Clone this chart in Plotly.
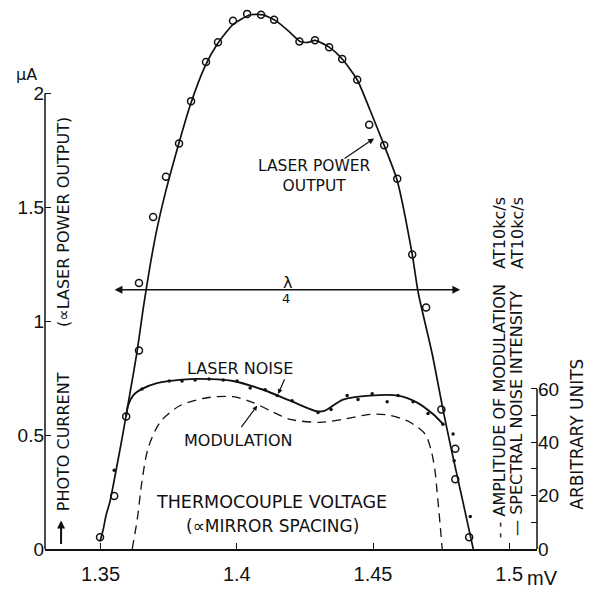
import plotly.graph_objects as go

# ---------------- data ----------------
# Laser power output, measured points (mV, uA)
power_x = [1.3498, 1.3550, 1.3594, 1.3641, 1.3641, 1.3693, 1.3740, 1.3788, 1.3832, 1.3887,
           1.3931, 1.3986, 1.4038, 1.4089, 1.4137, 1.4230, 1.4287, 1.4339, 1.4387, 1.4442,
           1.4486, 1.4541, 1.4589, 1.4644, 1.4695, 1.4751, 1.4802, 1.4802, 1.4853]
power_y = [0.052, 0.233, 0.582, 0.871, 1.168, 1.457, 1.634, 1.780, 1.966, 2.138,
           2.224, 2.319, 2.349, 2.345, 2.323, 2.228, 2.233, 2.203, 2.151, 2.060,
           1.862, 1.772, 1.625, 1.293, 1.060, 0.612, 0.440, 0.306, 0.052]

# Laser power output, drawn curve
power_fit_x = [1.3498, 1.3509, 1.3520, 1.3535, 1.3561, 1.3583, 1.3608, 1.3634, 1.3656, 1.3682,
               1.3707, 1.3737, 1.3781, 1.3829, 1.3884, 1.3928, 1.3986, 1.4049, 1.4097, 1.4148,
               1.4196, 1.4232, 1.4262, 1.4287, 1.4339, 1.4387, 1.4442, 1.4489, 1.4541, 1.4588,
               1.4644, 1.4666, 1.4717, 1.4757, 1.4787, 1.4827, 1.4868]
power_fit_y = [0.034, 0.082, 0.147, 0.211, 0.371, 0.513, 0.685, 0.866, 1.052, 1.246,
               1.405, 1.560, 1.754, 1.948, 2.121, 2.216, 2.302, 2.345, 2.345, 2.315,
               2.267, 2.228, 2.224, 2.233, 2.203, 2.151, 2.060, 1.927, 1.772, 1.621,
               1.293, 1.125, 0.858, 0.612, 0.440, 0.224, 0.000]

# Spectral noise intensity at 10 kc/s, measured points (mV, arbitrary units)
noise_x = [1.3550, 1.3652, 1.3752, 1.3799, 1.3847, 1.3898, 1.3950, 1.4001, 1.4049, 1.4104,
           1.4148, 1.4203, 1.4298, 1.4346, 1.4405, 1.4445, 1.4497, 1.4552, 1.4592, 1.4647,
           1.4702, 1.4757, 1.4794, 1.4798, 1.4857]
noise_y = [29.5, 60.0, 63.0, 63.0, 63.4, 63.7, 63.4, 63.0, 60.4, 59.7,
           57.5, 55.6, 51.2, 52.3, 57.5, 56.0, 58.2, 55.2, 57.5, 55.2,
           50.8, 46.8, 43.1, 33.1, 12.2]

# Spectral noise intensity, drawn curve
noise_fit_x = [1.3594, 1.3601, 1.3619, 1.3652, 1.3707, 1.3829, 1.3902, 1.3986, 1.4097, 1.4196,
               1.4295, 1.4324, 1.4390, 1.4489, 1.4592, 1.4662, 1.4721, 1.4757]
noise_fit_y = [49.7, 53.8, 57.5, 60.0, 62.2, 63.7, 63.7, 63.0, 59.7, 55.6,
               51.6, 51.9, 56.0, 57.5, 57.5, 54.9, 50.5, 46.8]

# Amplitude of modulation at 10 kc/s (dashed curve, arbitrary units)
mod_x = [1.3616, 1.3634, 1.3652, 1.3674, 1.3718, 1.3792, 1.3891, 1.3986, 1.4060, 1.4122,
         1.4196, 1.4306, 1.4390, 1.4489, 1.4563, 1.4636, 1.4691, 1.4713, 1.4728, 1.4735,
         1.4746, 1.4754]
mod_y = [0.0, 10.7, 25.4, 37.6, 47.5, 53.8, 56.7, 57.1, 54.9, 51.9,
         48.6, 47.5, 48.6, 50.5, 50.1, 47.5, 43.1, 37.2, 29.1, 21.7,
         9.6, 0.0]

x_ticks = [1.35, 1.4, 1.45, 1.5]
x_ticktext = ["1.35", "1.4", "1.45", "1.5"]
y_ticks = [0, 0.5, 1, 1.5, 2]
y_ticktext = ["0", "0.5", "1", "1.5", "2"]
arb_ticks = [0, 10, 20, 30, 40, 50, 60]
arb_ticktext = ["0", "", "20", "", "40", "", "60"]

# ---------------- scales ----------------
X_RANGE = [1.3296, 1.5102]
Y_MAX = 2.388          # uA at top of plot area
ARB_PER_UA = 85.4      # right-hand scale: arbitrary units per uA

TXT = "DejaVu Sans"
NUM = "Liberation Sans"
BLACK = "#111"

fig = go.Figure()

fig.add_trace(go.Scatter(x=power_fit_x, y=power_fit_y, mode="lines",
                         line=dict(color=BLACK, width=1.7, shape="spline", smoothing=0.6),
                         hoverinfo="skip", showlegend=False))
fig.add_trace(go.Scatter(x=power_x, y=power_y, mode="markers", cliponaxis=False,
                         marker=dict(symbol="circle-open", size=7, color=BLACK,
                                     line=dict(width=1.5, color=BLACK)),
                         showlegend=False))
fig.add_trace(go.Scatter(x=noise_fit_x, y=noise_fit_y, mode="lines", yaxis="y2",
                         line=dict(color=BLACK, width=1.9, shape="spline", smoothing=0.8),
                         hoverinfo="skip", showlegend=False))
fig.add_trace(go.Scatter(x=noise_x, y=noise_y, mode="markers", yaxis="y2",
                         marker=dict(symbol="circle", size=3.5, color=BLACK),
                         showlegend=False))
fig.add_trace(go.Scatter(x=mod_x, y=mod_y, mode="lines", yaxis="y2",
                         line=dict(color=BLACK, width=1.3, dash="9px,6px",
                                   shape="spline", smoothing=0.8),
                         showlegend=False))

# axis spines that stop at the last labelled tick
fig.add_shape(type="line", xref="paper", yref="y", x0=0, x1=0, y0=0, y1=2,
              line=dict(color=BLACK, width=1.5))
fig.add_shape(type="line", xref="paper", yref="y2", x0=1, x1=1, y0=0, y1=60,
              line=dict(color=BLACK, width=1.5))

ann = []
def txt(text, x, y, size=16, angle=0, xref="x", yref="y", xanchor="center", yanchor="middle", family=TXT):
    ann.append(dict(text=text, x=x, y=y, xref=xref, yref=yref, showarrow=False,
                    textangle=angle, xanchor=xanchor, yanchor=yanchor,
                    font=dict(family=family, size=size, color=BLACK)))

def arrow(x, y, ax, ay, head=2, width=1.3, size=1.0, **kw):
    ann.append(dict(text="", x=x, y=y, ax=ax, ay=ay, showarrow=True, arrowhead=head,
                    arrowwidth=width, arrowsize=size, arrowcolor=BLACK, standoff=0,
                    startstandoff=0, **kw))

txt("µA", -0.0366, 2.085, size=16, xref="paper")
arrow(1.3355, 0.125, 0, 25, head=2, width=2, size=0.8)
txt("PHOTO CURRENT", 1.3362, 0.159, angle=-90, yanchor="bottom")
txt("(∝LASER POWER OUTPUT)", 1.3362, 1.905, angle=-90, yanchor="top")

ann.append(dict(text="LASER POWER<br>OUTPUT", x=1.4285, y=1.636, xref="x", yref="y",
                showarrow=False, align="center",
                font=dict(family=TXT, size=15.5, color=BLACK)))
arrow(1.4504, 1.802, -31, 21, head=2, width=1.2, size=1.0)

arrow(1.4820, 1.138, 1.3546, 1.138, head=2, width=1.3, size=1.2,
      axref="x", ayref="y", arrowside="end+start")
txt("λ", 1.4185, 1.168, size=16)
txt("4", 1.4181, 1.099, size=13)

txt("LASER NOISE", 1.4012, 0.793)
arrow(1.4152, 0.681, 7, -16, head=2, width=1.2, size=0.8)
txt("MODULATION", 1.4005, 0.478)
arrow(1.4075, 0.629, -17, 23, head=2, width=1.2, size=0.8)

txt("THERMOCOUPLE VOLTAGE", 1.4126, 0.207, size=17.5)
txt("(∝MIRROR SPACING)", 1.4130, 0.103, size=17)

txt("- - AMPLITUDE OF MODULATION", 1.4963, 0.039, angle=-90, yanchor="bottom")
txt("AT10kc/s", 1.4963, 1.556, angle=-90, yanchor="top")
txt("— SPECTRAL NOISE INTENSITY", 1.5029, 0.047, angle=-90, yanchor="bottom")
txt("AT10kc/s", 1.5029, 1.556, angle=-90, yanchor="top")
txt("ARBITRARY UNITS", 1.0813, 0.506, size=17, angle=-90, xref="paper")
txt("mV", 1.0102, -0.054, size=20, xref="paper", yref="paper", family=NUM)

fig.update_layout(
    width=591, height=590,
    margin=dict(l=45, r=54, t=5, b=31, pad=0),
    paper_bgcolor="white", plot_bgcolor="white",
    annotations=ann,
    xaxis=dict(range=X_RANGE, showgrid=False, zeroline=False, showline=True,
               linecolor=BLACK, linewidth=1.5, ticks="inside", ticklen=6, tickwidth=1.3,
               tickcolor=BLACK, tickvals=x_ticks, ticktext=x_ticktext,
               tickfont=dict(family=NUM, size=20, color=BLACK), ticklabelstandoff=6),
    yaxis=dict(range=[0, Y_MAX], showgrid=False, zeroline=False, showline=False,
               ticks="inside", ticklen=6, tickwidth=1.3, tickcolor=BLACK,
               tickvals=y_ticks, ticktext=y_ticktext,
               tickfont=dict(family=NUM, size=19, color=BLACK)),
    yaxis2=dict(range=[0, Y_MAX * ARB_PER_UA], overlaying="y", side="right",
                showgrid=False, zeroline=False, showline=False,
                ticks="inside", ticklen=6, tickwidth=1.3, tickcolor=BLACK,
                tickvals=arb_ticks, ticktext=arb_ticktext,
                tickfont=dict(family=NUM, size=19, color=BLACK)),
)

fig.write_html("out.html", config={"displayModeBar": False},
               post_script="document.body.style.margin='0';")
